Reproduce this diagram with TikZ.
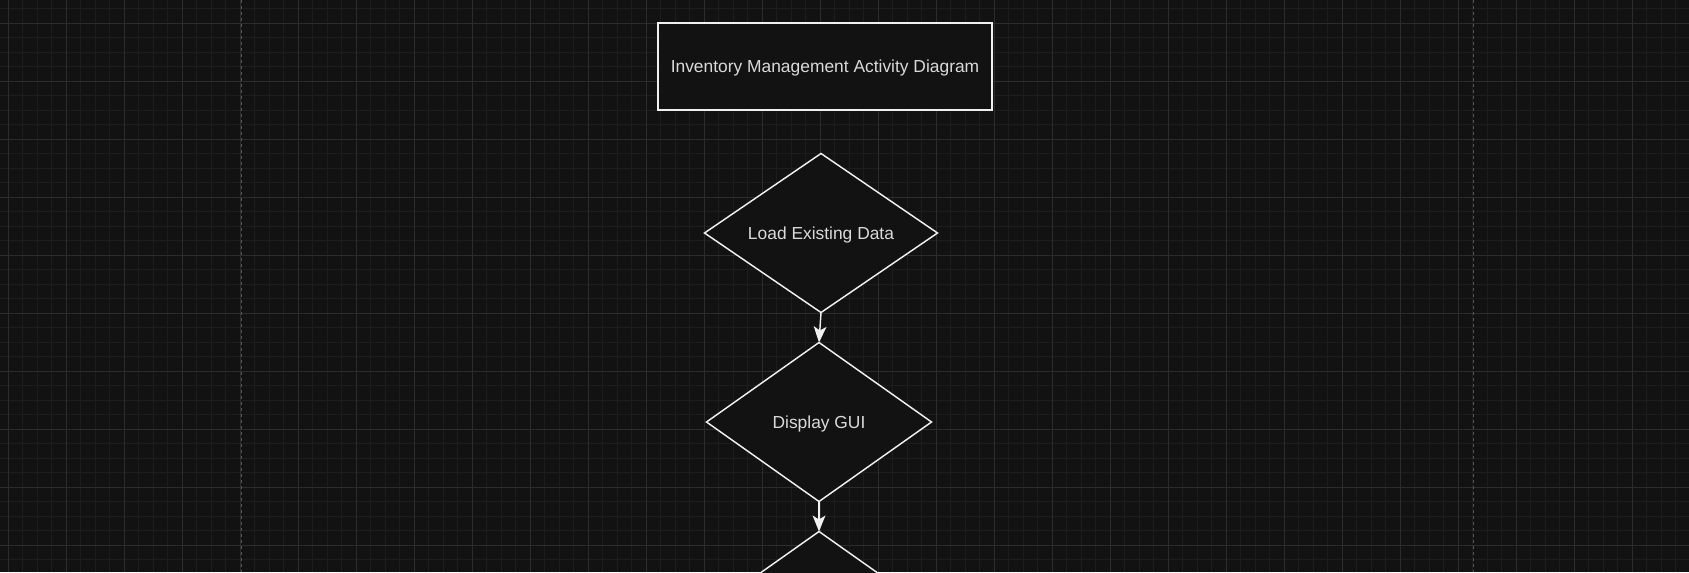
\documentclass[tikz,border=0pt]{standalone}
\usepackage{fontspec}
\setmainfont{Liberation Sans}
\usetikzlibrary{shapes.geometric}
\usetikzlibrary{positioning}
\usetikzlibrary{arrows.meta}
\definecolor{canvas}{RGB}{18,18,18}
\definecolor{gridminor}{RGB}{29,29,29}
\definecolor{gridmajor}{RGB}{44,44,44}
\definecolor{pageedge}{RGB}{85,85,85}
\definecolor{inkline}{RGB}{240,240,240}
\definecolor{inktext}{RGB}{218,218,218}
\tikzstyle{every node}=[font=\fontsize{8.7}{10}\selectfont,text=inktext,text depth=0pt]
\tikzstyle{titlebox}=[draw=inkline,fill=canvas,line width=0.73pt,minimum width=167pt,minimum height=43.5pt,inner sep=0pt,outer sep=0pt]
\tikzstyle{decision}=[diamond,draw=inkline,fill=canvas,line width=0.73pt,inner sep=0pt,outer sep=0pt,aspect=1.45]
\tikzstyle{flow}=[draw=inkline,line width=0.73pt,-{Stealth[length=8pt,width=6.4pt,inset=2pt]}]
\begin{document}
\begin{tikzpicture}[x=0.5pt,y=-0.5pt]
  \useasboundingbox (0,0) rectangle (1689,572);
  \clip (0,0) rectangle (1689,572);
  \fill[canvas] (0,0) rectangle (1689,572);
  % grid
  \foreach \i in {0,...,116}
    \draw[gridminor,line width=0.5pt] ({8.3+14.5*\i},0) -- ++(0,572);
  \foreach \j in {0,...,39}
    \draw[gridminor,line width=0.5pt] (0,{8.8+14.5*\j}) -- ++(1689,0);
  \foreach \i in {0,...,29}
    \draw[gridmajor,line width=0.5pt] ({8.3+58*\i},0) -- ++(0,572);
  \foreach \j in {0,...,9}
    \draw[gridmajor,line width=0.5pt] (0,{23.3+58*\j}) -- ++(1689,0);
  % page edges
  \draw[pageedge,line width=0.5pt,dash pattern=on 1.5pt off 1.5pt]
    (241,0) -- ++(0,572)
    (1473,0) -- ++(0,572);
  %
  \node[titlebox] (title) at (825,66.5) {Inventory Management Activity Diagram};
  \node[decision,minimum width=116.5pt,minimum height=79.5pt] (load) at (821,233) {Load Existing Data};
  \node[decision,minimum width=112.5pt,minimum height=79.5pt] (gui) at (819,422) {Display GUI};
  \node[decision,minimum width=112.5pt,minimum height=79.5pt] (next) at (819,611) {};
  \draw[flow] (load.south) -- (gui.north);
  \draw[flow] (gui.south) -- (next.north);
\end{tikzpicture}
\end{document}
